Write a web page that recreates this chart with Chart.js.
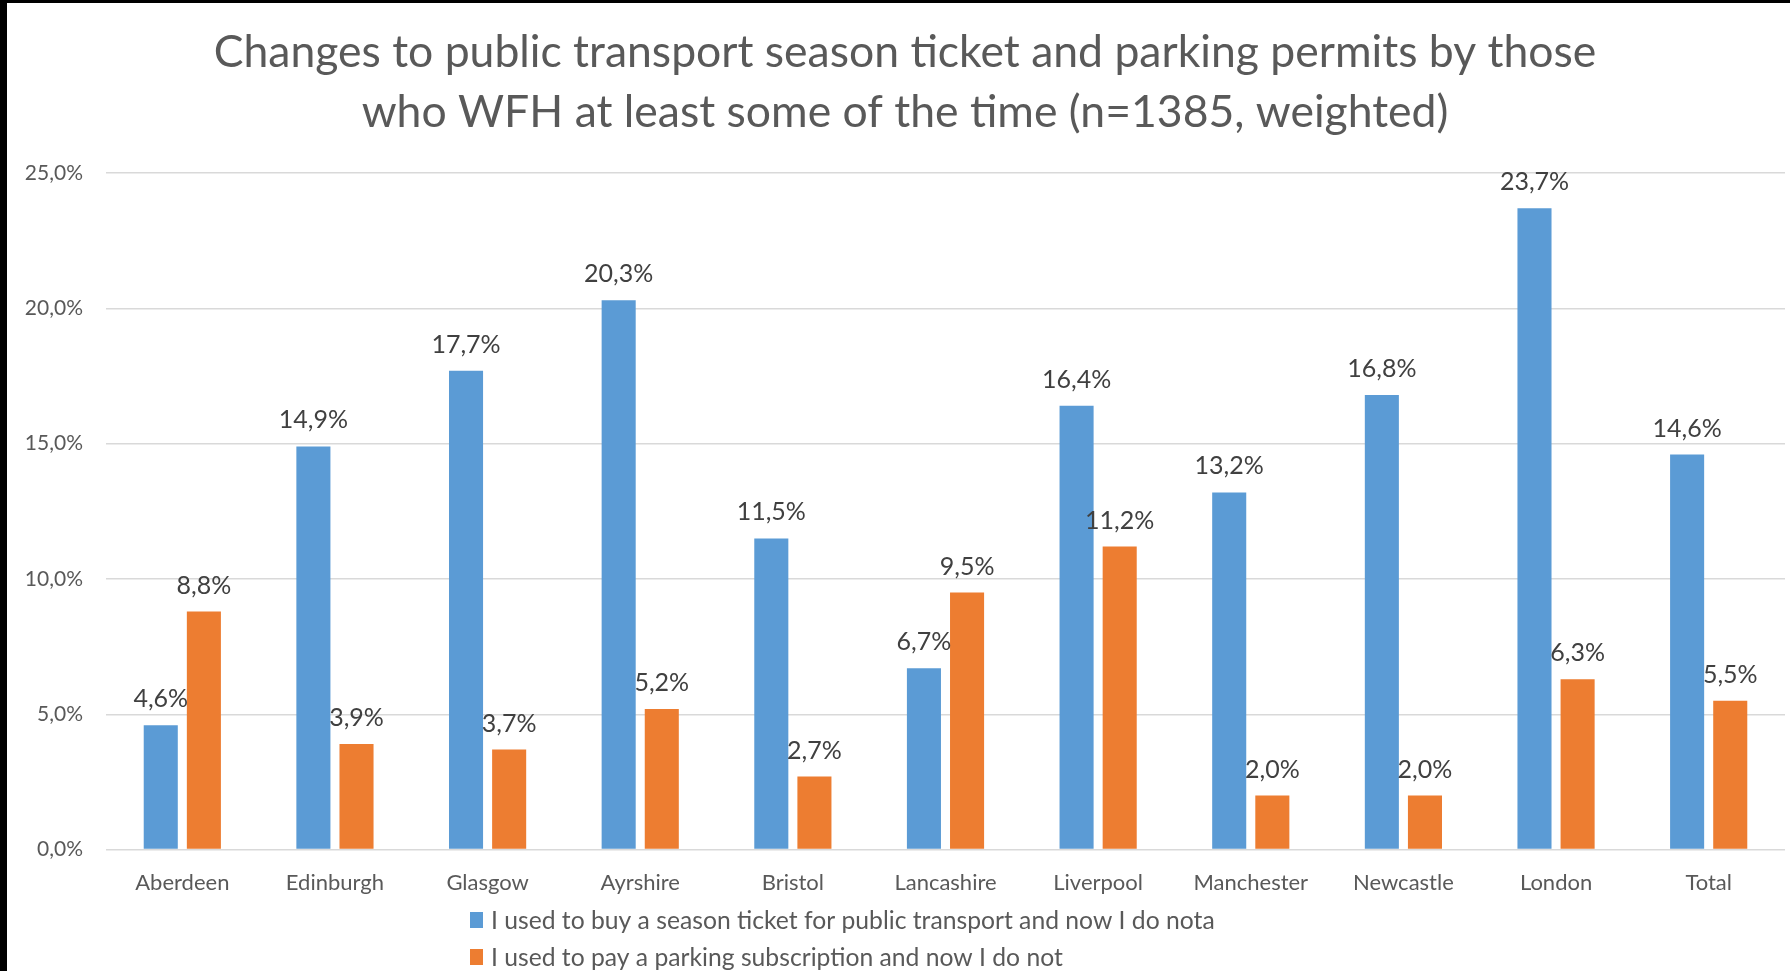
<!DOCTYPE html>
<html>
<head>
<meta charset="utf-8">
<title>WFH season tickets and parking permits</title>
<script src="https://cdn.jsdelivr.net/npm/chart.js@4"></script>
<style>
  html, body { margin: 0; padding: 0; background: #000; }
  #wrap { position: absolute; left: 7px; top: 3px; width: 1783px; height: 968px; background: #fff; }
  canvas { display: block; }
</style>
</head>
<body>
<div id="wrap"><canvas id="wfhChart" width="1783" height="968"></canvas></div>
<script>
// regions surveyed
const categories = ['Aberdeen', 'Edinburgh', 'Glasgow', 'Ayrshire', 'Bristol', 'Lancashire',
  'Liverpool', 'Manchester', 'Newcastle', 'London', 'Total'];

// % of WFH respondents who dropped each item
const seasonTicket = [4.6, 14.9, 17.7, 20.3, 11.5, 6.7, 16.4, 13.2, 16.8, 23.7, 14.6];
const parkingPermit = [8.8, 3.9, 3.7, 5.2, 2.7, 9.5, 11.2, 2.0, 2.0, 6.3, 5.5];

const seriesNames = [
  'I used to buy a season ticket for public transport and now I do nota',
  'I used to pay a parking subscription and now I do not'
];
const titleLines = [
  'Changes to public transport season ticket and parking permits by those',
  'who WFH at least some of the time (n=1385, weighted)'
];

const FONT = 'Lato, "Open Sans", sans-serif';
const pct = v => v.toFixed(1).replace('.', ',') + '%';

// value labels sitting above each bar
const barLabels = {
  id: 'barLabels',
  afterDatasetsDraw(chart) {
    const ctx = chart.ctx;
    ctx.save();
    ctx.font = '25px ' + FONT;
    ctx.fillStyle = '#404040';
    ctx.textAlign = 'center';
    ctx.textBaseline = 'middle';
    chart.data.datasets.forEach((ds, i) => {
      chart.getDatasetMeta(i).data.forEach((bar, j) => {
        ctx.fillText(pct(ds.data[j]), bar.x, bar.y - 26);
      });
    });
    ctx.restore();
  }
};

// one legend row per series, left aligned below the category labels
const stackedLegend = {
  id: 'stackedLegend',
  afterDraw(chart) {
    const ctx = chart.ctx;
    const x = 463, y0 = 917, rowGap = 37;
    ctx.save();
    ctx.font = '24.7px ' + FONT;
    ctx.textBaseline = 'middle';
    chart.data.datasets.forEach((ds, i) => {
      const y = y0 + i * rowGap;
      ctx.fillStyle = ds.backgroundColor;
      ctx.fillRect(x, y - 8, 13, 16);
      ctx.fillStyle = '#595959';
      ctx.fillText(ds.label, x + 21, y + 1);
    });
    ctx.restore();
  }
};

new Chart(document.getElementById('wfhChart'), {
  type: 'bar',
  data: {
    labels: categories,
    datasets: [{
      label: seriesNames[0],
      data: seasonTicket,
      backgroundColor: '#5B9BD5'
    }, {
      label: seriesNames[1],
      data: parkingPermit,
      backgroundColor: '#ED7D31'
    }]
  },
  options: {
    responsive: false,
    animation: false,
    categoryPercentage: 0.565,
    barPercentage: 0.79,
    layout: { padding: { left: 18, right: 5, top: 0, bottom: 55 } },
    plugins: {
      title: {
        display: true,
        text: titleLines,
        color: '#595959',
        font: { family: FONT, size: 44.5, weight: 'normal', lineHeight: 1.35 },
        padding: { top: 20, bottom: 30 }
      },
      legend: { display: false },
      tooltip: { enabled: false }
    },
    scales: {
      x: {
        grid: { display: false, drawTicks: false },
        border: { display: false },
        ticks: { color: '#595959', font: { family: FONT, size: 22 }, padding: 20 }
      },
      y: {
        min: 0,
        max: 25,
        afterFit(scale) { scale.width = 81; },
        grid: { color: '#d9d9d9', lineWidth: 1.5, drawTicks: false },
        border: { display: false },
        ticks: {
          stepSize: 5,
          color: '#595959',
          font: { family: FONT, size: 21 },
          padding: 23,
          callback: v => pct(v)
        }
      }
    }
  },
  plugins: [barLabels, stackedLegend]
});
</script>
</body>
</html>
